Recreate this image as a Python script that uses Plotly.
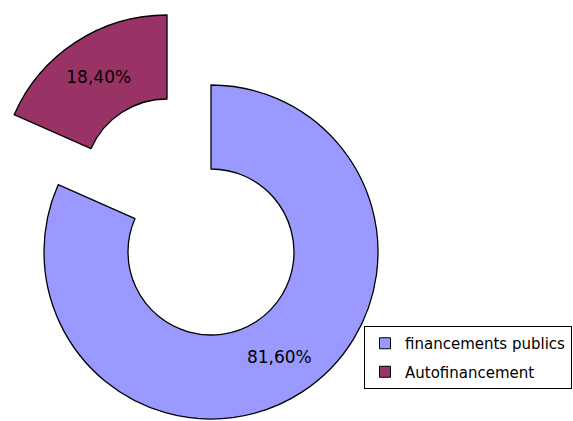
import plotly.graph_objects as go

categories = ["financements publics", "Autofinancement"]
values = [81.6, 18.4]
value_labels = ["81,60%", "18,40%"]
colors = ["#9999FF", "#993366"]

W, H = 573, 421
FONT = "DejaVu Sans"

def dom(cx, cy, r):
    return dict(x=[max(0, (cx - r) / W), min(1, (cx + r) / W)],
                y=[max(0, (H - (cy + r)) / H), min(1, (H - (cy - r)) / H)])

fig = go.Figure()

# main ring: visible "financements publics" slice
fig.add_trace(go.Pie(
    labels=categories, values=values, sort=False, direction="clockwise", rotation=0,
    hole=0.497, domain=dom(211, 252, 167),
    marker=dict(colors=[colors[0], "rgba(0,0,0,0)"],
                line=dict(color=["black", "rgba(0,0,0,0)"], width=[1.3, 0])),
    text=[value_labels[0], ""], texttemplate="%{text}", textposition="inside",
    insidetextorientation="horizontal",
    textfont=dict(family=FONT, size=17, color="black"),
    showlegend=False, hoverinfo="skip",
))

# exploded "Autofinancement" slice
fig.add_trace(go.Pie(
    labels=categories, values=values, sort=False, direction="clockwise", rotation=0,
    hole=0.497, domain=dom(167, 182, 167),
    marker=dict(colors=["rgba(0,0,0,0)", colors[1]],
                line=dict(color=["rgba(0,0,0,0)", "black"], width=[0, 1.3])),
    text=["", value_labels[1]], texttemplate="%{text}", textposition="inside",
    insidetextorientation="horizontal",
    textfont=dict(family=FONT, size=17, color="black"),
    showlegend=False, hoverinfo="skip",
))

# legend entries
for i, (cat, col) in enumerate(zip(categories, colors)):
    fig.add_trace(go.Scatter(
        x=[None], y=[None], mode="markers", name=cat, legendgroup=f"g{i}",
        marker=dict(symbol="square", size=11, color=col, line=dict(color="black", width=1)),
        hoverinfo="skip",
    ))

fig.update_layout(
    width=W, height=H, margin=dict(l=0, r=0, t=0, b=0, autoexpand=False),
    paper_bgcolor="white", plot_bgcolor="white",
    xaxis=dict(visible=False), yaxis=dict(visible=False),
    legend=dict(x=364 / W, y=(H - 326) / H, xanchor="left", yanchor="top",
                bordercolor="black", borderwidth=1, bgcolor="white",
                font=dict(family=FONT, size=15, color="black"),
                tracegroupgap=6, itemwidth=30),
    font=dict(family=FONT),
)

fig.write_html("out.html", config={"displayModeBar": False},
               post_script="document.body.style.margin='0';document.body.style.overflow='hidden';")
